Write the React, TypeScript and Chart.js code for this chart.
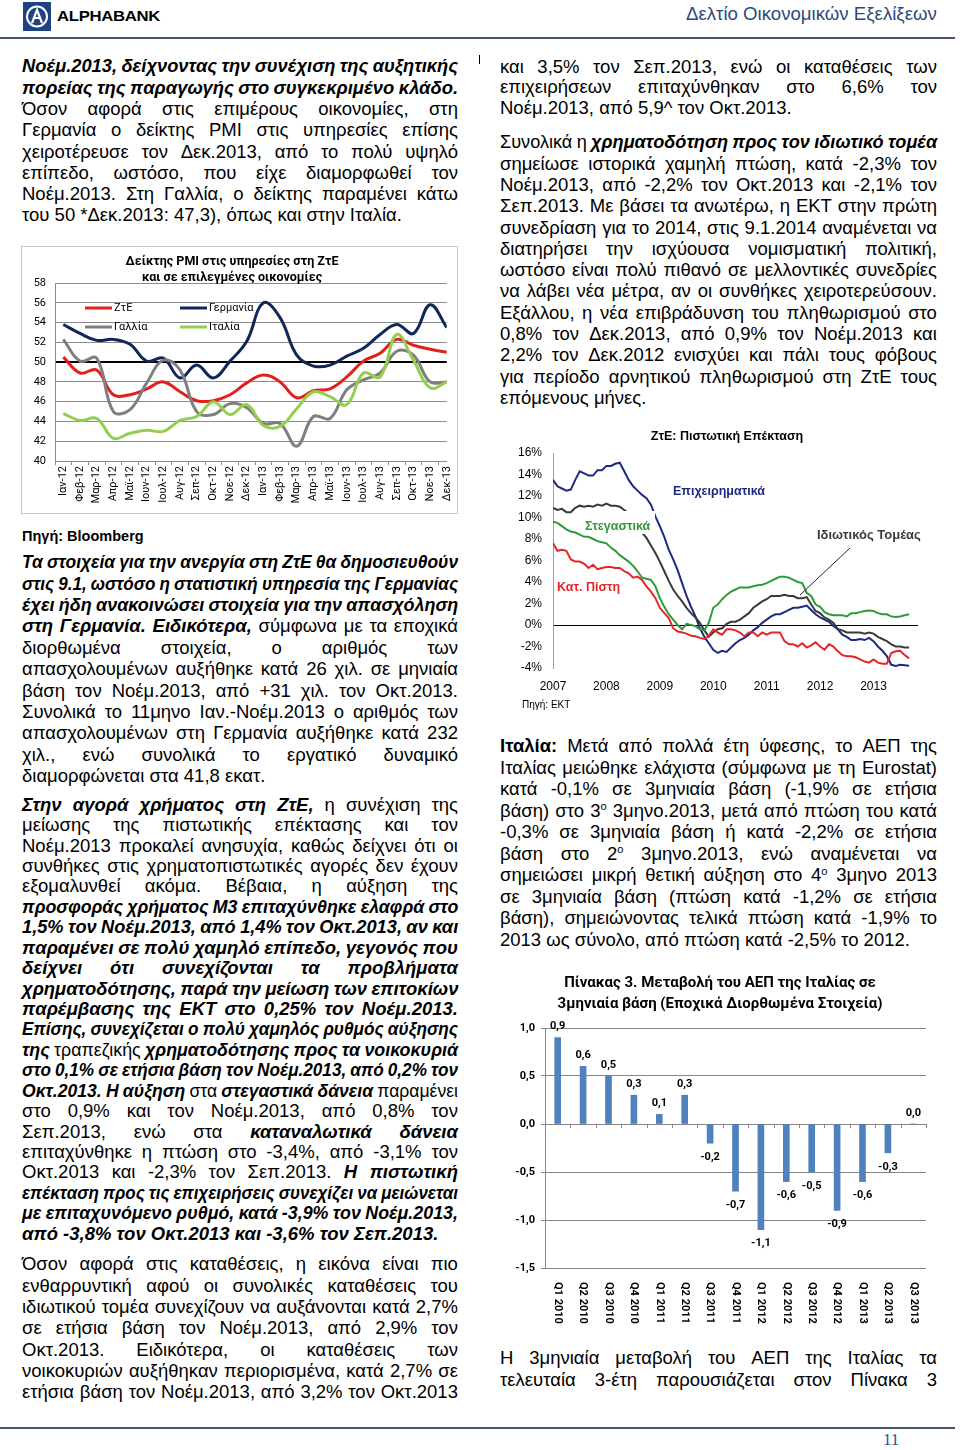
import React, { useEffect, useLayoutEffect, useRef } from "react";
import { Chart, registerables } from "chart.js";
Chart.register(...registerables);

const SANS = "'Liberation Sans', Arial, sans-serif";
const CAL = "Roboto, 'Noto Sans', sans-serif";

// ---------- Chart 1: PMI services ----------
const pmiTitle = ["Δείκτης PMI στις υπηρεσίες στη ΖτΕ", "και σε επιλεγμένες οικονομίες"];
const pmiMonths = ["Ιαν-12", "Φεβ-12", "Μαρ-12", "Απρ-12", "Μαϊ-12", "Ιουν-12", "Ιουλ-12", "Αυγ-12", "Σεπ-12", "Οκτ-12", "Νοε-12", "Δεκ-12", "Ιαν-13", "Φεβ-13", "Μαρ-13", "Απρ-13", "Μαϊ-13", "Ιουν-13", "Ιουλ-13", "Αυγ-13", "Σεπ-13", "Οκτ-13", "Νοε-13", "Δεκ-13"];
const pmiEZ = [50.5, 48.9, 49.2, 46.7, 46.7, 47.3, 48.0, 47.0, 46.1, 46.1, 46.7, 47.9, 48.7, 48.0, 46.4, 47.1, 47.3, 48.5, 50.1, 50.9, 52.3, 51.7, 51.3, 51.0];
const pmiDE = [53.8, 52.9, 52.2, 52.3, 51.8, 50.1, 50.4, 48.4, 49.7, 48.4, 50.1, 52.1, 56.0, 54.5, 50.7, 49.6, 49.7, 50.6, 51.4, 52.8, 53.8, 52.9, 55.8, 53.5];
const pmiFR = [52.3, 50.1, 50.4, 45.0, 45.2, 47.9, 50.2, 49.2, 45.0, 44.7, 45.8, 45.4, 43.8, 43.8, 41.5, 44.5, 44.3, 47.2, 48.2, 48.9, 51.1, 50.7, 48.0, 48.0];
const pmiIT = [44.8, 44.1, 44.3, 42.3, 42.8, 43.1, 43.0, 44.1, 44.5, 46.0, 44.7, 45.7, 43.6, 43.5, 45.3, 47.0, 46.5, 45.7, 48.9, 48.5, 52.8, 50.2, 47.4, 48.0];
const pmiNames = ["ΖτΕ", "Γερμανία", "Γαλλία", "Ιταλία"];

// ---------- Chart 2: credit expansion (monthly, Jan 2007 onwards) ----------
const creditTitle = "ΖτΕ: Πιστωτική Επέκταση";
const creditYears = ["2007", "2008", "2009", "2010", "2011", "2012", "2013"];
const creditBusiness = [13.5, 12.9, 12.7, 12.5, 12.6, 13.5, 14.3, 14.1, 13.9, 13.9, 14.4, 14.4, 14.8, 14.8, 15.0, 15.1, 14.3, 13.5, 12.9, 12.5, 12.1, 11.8, 11.2, 10.1, 9.2, 8.2, 7.0, 6.1, 5.1, 3.9, 2.7, 1.7, 0.8, -0.3, -1.1, -1.7, -2.3, -2.6, -2.4, -2.5, -2.1, -1.7, -1.4, -1.2, -0.9, -0.5, -0.2, 0.2, 0.5, 0.8, 1.0, 1.0, 1.2, 1.4, 1.6, 1.6, 1.7, 1.8, 1.4, 1.0, 0.7, 0.5, 0.3, -0.1, -0.4, -0.9, -1.1, -1.4, -1.4, -1.3, -1.4, -1.2, -1.5, -2.0, -2.4, -2.9, -3.7, -3.8, -3.7, -3.75, -3.8];
const creditPrivate = [10.9, 10.7, 10.8, 10.5, 10.5, 10.9, 11.1, 11.0, 11.1, 11.0, 11.2, 11.1, 11.3, 11.1, 11.1, 11.0, 10.7, 10.4, 9.8, 9.0, 8.6, 8.1, 7.4, 6.7, 5.9, 5.0, 4.1, 3.3, 2.7, 2.2, 1.6, 1.1, 0.7, 0.2, -0.5, -1.1, -0.7, -0.4, -0.3, 0.1, 0.3, 0.3, 0.5, 0.8, 1.1, 1.6, 1.9, 2.2, 2.4, 2.7, 2.7, 2.7, 2.8, 2.7, 2.7, 2.5, 2.5, 2.6, 1.9, 1.3, 1.1, 0.7, 0.5, 0.2, -0.4, -0.5, -0.7, -0.7, -0.7, -0.7, -0.8, -0.7, -0.8, -1.1, -1.3, -1.5, -1.8, -2.0, -2.0, -2.1, -2.1];
const creditHousing = [9.6, 9.5, 9.2, 8.9, 8.7, 8.6, 8.4, 8.2, 8.2, 8.0, 7.8, 7.7, 7.6, 7.2, 6.9, 6.5, 6.2, 5.9, 5.5, 5.0, 4.4, 4.3, 4.2, 3.6, 2.5, 1.7, 1.0, 0.5, 0.0, -0.4, 0.1, 0.0, -0.1, -0.4, -0.5, 0.2, 1.6, 1.9, 2.4, 2.8, 3.1, 3.3, 3.5, 3.5, 3.5, 3.6, 3.7, 3.75, 3.9, 4.1, 4.3, 4.5, 4.5, 4.4, 4.2, 4.0, 3.9, 3.0, 2.7, 1.9, 1.7, 1.2, 1.0, 0.9, 0.9, 0.9, 0.8, 1.1, 1.1, 1.2, 1.3, 1.35, 1.3, 1.1, 1.0, 1.0, 0.8, 0.75, 0.8, 0.9, 1.0];
const creditConsumer = [7.6, 6.9, 7.0, 6.9, 6.1, 5.9, 5.9, 5.7, 5.3, 5.6, 5.2, 5.3, 5.4, 5.4, 5.3, 5.3, 5.0, 4.8, 4.4, 4.5, 4.2, 3.6, 3.1, 2.5, 1.6, 1.1, 0.65, -0.3, -0.6, -0.7, -0.8, -1.0, -1.05, -1.2, -1.3, -1.0, -0.4, -0.7, -0.9, -0.4, -0.4, -0.5, -0.7, -1.05, -0.7, -0.7, -1.05, -0.7, -0.9, -0.7, -0.7, -0.7, -1.5, -1.8, -1.8, -2.0, -1.7, -2.1, -1.9, -1.6, -2.0, -2.3, -1.8, -2.0, -2.45, -2.8, -2.9, -2.9, -3.0, -3.2, -3.4, -3.5, -3.2, -3.5, -3.6, -3.6, -2.6, -2.45, -2.4, -2.8, -3.1];
const creditNames = ["Επιχειρηματικά", "Ιδιωτικός Τομέας", "Στεγαστικά", "Κατ. Πίστη"];

// ---------- Chart 3: Italy GDP q/q ----------
const gdpTitle = ["Πίνακας 3. Μεταβολή του ΑΕΠ της Ιταλίας σε", "3μηνιαία βάση (Εποχικά Διορθωμένα Στοιχεία)"];
const gdpQuarters = ["Q1 2010", "Q2 2010", "Q3 2010", "Q4 2010", "Q1 2011", "Q2 2011", "Q3 2011", "Q4 2011", "Q1 2012", "Q2 2012", "Q3 2012", "Q4 2012", "Q1 2013", "Q2 2013", "Q3 2013"];
const gdpChange = [0.9, 0.6, 0.5, 0.3, 0.1, 0.3, -0.2, -0.7, -1.1, -0.6, -0.5, -0.9, -0.6, -0.3, 0.0];

// ---------- Text ----------
const leftP1 = [
  "<bi>Νοέμ.2013, δείχνοντας την συνέχιση της αυξητικής</bi>",
  "<bi>πορείας της παραγωγής στο συγκεκριμένο κλάδο.</bi>",
  "Όσον αφορά στις επιμέρους οικονομίες, στη",
  "Γερμανία ο δείκτης PMI στις υπηρεσίες επίσης",
  "χειροτέρευσε τον Δεκ.2013, από το πολύ υψηλό",
  "επίπεδο, ωστόσο, που είχε διαμορφωθεί τον",
  "Νοέμ.2013. Στη Γαλλία, ο δείκτης παραμένει κάτω",
  "του 50 *Δεκ.2013: 47,3), όπως και στην Ιταλία.",
];
const leftP2 = [
  "<bi>Τα στοιχεία για την ανεργία στη ΖτΕ θα δημοσιευθούν</bi>",
  "<bi>στις 9.1, ωστόσο η στατιστική υπηρεσία της Γερμανίας</bi>",
  "<bi>έχει ήδη ανακοινώσει στοιχεία για την απασχόληση</bi>",
  "<bi>στη Γερμανία. Ειδικότερα,</bi> σύμφωνα με τα εποχικά",
  "διορθωμένα στοιχεία, ο αριθμός των",
  "απασχολουμένων αυξήθηκε κατά 26 χιλ. σε μηνιαία",
  "βάση τον Νοέμ.2013, από +31 χιλ. τον Οκτ.2013.",
  "Συνολικά το 11μηνο Ιαν.-Νοέμ.2013 ο αριθμός των",
  "απασχολουμένων στη Γερμανία αυξήθηκε κατά 232",
  "χιλ., ενώ συνολικά το εργατικό δυναμικό",
  "διαμορφώνεται στα 41,8 εκατ.",
];
const leftP3 = [
  "<bi>Στην αγορά χρήματος στη ΖτΕ,</bi> η συνέχιση της",
  "μείωσης της πιστωτικής επέκτασης και τον",
  "Νοέμ.2013 προκαλεί ανησυχία, καθώς δείχνει ότι οι",
  "συνθήκες στις χρηματοπιστωτικές αγορές δεν έχουν",
  "εξομαλυνθεί ακόμα. Βέβαια, η αύξηση της",
  "<bi>προσφοράς χρήματος Μ3 επιταχύνθηκε ελαφρά στο</bi>",
  "<bi>1,5% τον Νοέμ.2013, από 1,4% τον Οκτ.2013, αν και</bi>",
  "<bi>παραμένει σε πολύ χαμηλό επίπεδο, γεγονός που</bi>",
  "<bi>δείχνει ότι συνεχίζονται τα προβλήματα</bi>",
  "<bi>χρηματοδότησης, παρά την μείωση των επιτοκίων</bi>",
  "<bi>παρέμβασης της ΕΚΤ στο 0,25% τον Νοέμ.2013.</bi>",
  "<bi>Επίσης, συνεχίζεται ο πολύ χαμηλός ρυθμός αύξησης</bi>",
  "<bi>της</bi> τραπεζικής <bi>χρηματοδότησης προς τα νοικοκυριά</bi>",
  "<bi>στο 0,1% σε ετήσια βάση τον Νοέμ.2013, από 0,2% τον</bi>",
  "<bi>Οκτ.2013. Η αύξηση</bi> στα <bi>στεγαστικά δάνεια</bi> παραμένει",
  "στο 0,9% και τον Νοέμ.2013, από 0,8% τον",
  "Σεπ.2013, ενώ στα <bi>καταναλωτικά δάνεια</bi>",
  "επιταχύνθηκε η πτώση στο -3,4%, από -3,1% τον",
  "Οκτ.2013 και -2,3% τον Σεπ.2013. <bi>Η πιστωτική</bi>",
  "<bi>επέκταση προς τις επιχειρήσεις συνεχίζει να μειώνεται</bi>",
  "<bi>με επιταχυνόμενο ρυθμό, κατά -3,9% τον Νοέμ.2013,</bi>",
  "<bi>από -3,8% τον Οκτ.2013 και -3,6% τον Σεπ.2013.</bi>",
];
const leftP4 = [
  "Όσον αφορά στις καταθέσεις, η εικόνα είναι πιο",
  "ενθαρρυντική αφού οι συνολικές καταθέσεις του",
  "ιδιωτικού τομέα συνεχίζουν να αυξάνονται κατά 2,7%",
  "σε ετήσια βάση τον Νοέμ.2013, από 2,9% τον",
  "Οκτ.2013. Ειδικότερα, οι καταθέσεις των",
  "νοικοκυριών αυξήθηκαν περιορισμένα, κατά 2,7% σε",
  "ετήσια βάση τον Νοέμ.2013, από 3,2% τον Οκτ.2013",
];
const rightP1 = [
  "και 3,5% τον Σεπ.2013, ενώ οι καταθέσεις των",
  "επιχειρήσεων επιταχύνθηκαν στο 6,6% τον",
  "Νοέμ.2013, από 5,9^ τον Οκτ.2013.",
];
const rightP2 = [
  "Συνολικά η <bi>χρηματοδότηση προς τον ιδιωτικό τομέα</bi>",
  "σημείωσε ιστορικά χαμηλή πτώση, κατά -2,3% τον",
  "Νοέμ.2013, από -2,2% τον Οκτ.2013 και -2,1% τον",
  "Σεπ.2013. Με βάσει τα ανωτέρω, η ΕΚΤ στην πρώτη",
  "συνεδρίαση για το 2014, στις 9.1.2014 αναμένεται να",
  "διατηρήσει την ισχύουσα νομισματική πολιτική,",
  "ωστόσο είναι πολύ πιθανό σε μελλοντικές συνεδρίες",
  "να λάβει νέα μέτρα, αν οι συνθήκες χειροτερεύσουν.",
  "Εξάλλου, η νέα επιβράδυνση του πληθωρισμού στο",
  "0,8% τον Δεκ.2013, από 0,9% τον Νοέμ.2013 και",
  "2,2% τον Δεκ.2012 ενισχύει και πάλι τους φόβους",
  "για περίοδο αρνητικού πληθωρισμού στη ΖτΕ τους",
  "επόμενους μήνες.",
];
const rightP3 = [
  "<b>Ιταλία:</b> Μετά από πολλά έτη ύφεσης, το ΑΕΠ της",
  "Ιταλίας μειώθηκε ελάχιστα (σύμφωνα με τη Eurostat)",
  "κατά -0,1% σε 3μηνιαία βάση (-1,9% σε ετήσια",
  "βάση) στο 3<sup>ο</sup> 3μηνο.2013, μετά από πτώση του κατά",
  "-0,3% σε 3μηνιαία βάση ή κατά -2,2% σε ετήσια",
  "βάση στο 2<sup>ο</sup> 3μηνο.2013, ενώ αναμένεται να",
  "σημειώσει μικρή θετική αύξηση στο 4<sup>ο</sup> 3μηνο 2013",
  "σε 3μηνιαία βάση (πτώση κατά -1,2% σε ετήσια",
  "βάση), σημειώνοντας τελικά πτώση κατά -1,9% το",
  "2013 ως σύνολο, από πτώση κατά -2,5% το 2012.",
];
const rightP4 = [
  "Η 3μηνιαία μεταβολή του ΑΕΠ της Ιταλίας τα",
  "τελευταία 3-έτη παρουσιάζεται στον Πίνακα 3",
];

// ---------- text helpers ----------
type Seg = { t: string; bi?: boolean; b?: boolean; sup?: boolean };
function parse(line: string): Seg[] {
  const out: Seg[] = [];
  let bi = false, b = false, sup = false;
  for (const p of line.split(/(<\/?(?:bi|b|sup)>)/)) {
    if (p === "<bi>") bi = true;
    else if (p === "</bi>") bi = false;
    else if (p === "<b>") b = true;
    else if (p === "</b>") b = false;
    else if (p === "<sup>") sup = true;
    else if (p === "</sup>") sup = false;
    else if (p) out.push({ t: p, bi, b, sup });
  }
  return out;
}
function toWords(segs: Seg[]): Seg[][] {
  const ws: Seg[][] = [];
  let cur: Seg[] = [];
  segs.forEach((s) => {
    s.t.split(" ").forEach((p, k) => {
      if (k > 0 && cur.length) { ws.push(cur); cur = []; }
      if (p) cur.push({ ...s, t: p });
    });
  });
  if (cur.length) ws.push(cur);
  return ws;
}
function segStyle(s: Seg): React.CSSProperties {
  const st: React.CSSProperties = {
    fontWeight: s.bi || s.b ? "bold" : "normal",
    fontStyle: s.bi ? "italic" : "normal",
  };
  if (s.sup) Object.assign(st, { fontSize: "0.6em", position: "relative", top: "-0.6em" });
  return st;
}
function TextLine({ segs, w, lh, justify }: { segs: Seg[]; w: number; lh: number; justify: boolean }) {
  const ref = useRef<HTMLDivElement>(null);
  useLayoutEffect(() => {
    const el = ref.current;
    if (!el) return;
    const sw = el.scrollWidth;
    if (sw > w + 0.5) {
      el.style.width = sw + "px";
      el.style.transform = `scaleX(${w / sw})`;
    }
  }, []);
  const base: React.CSSProperties = { width: w, height: lh, lineHeight: lh + "px", whiteSpace: "pre", transformOrigin: "0 0" };
  if (justify) {
    const ws = toWords(segs);
    return (
      <div ref={ref} style={{ ...base, display: "flex", justifyContent: ws.length > 1 ? "space-between" : "flex-start", columnGap: "0.24em" }}>
        {ws.map((wd, i) => (
          <span key={i}>{wd.map((s, j) => <span key={j} style={segStyle(s)}>{s.t}</span>)}</span>
        ))}
      </div>
    );
  }
  return (
    <div ref={ref} style={base}>
      {segs.map((s, j) => <span key={j} style={segStyle(s)}>{s.t}</span>)}
    </div>
  );
}
function Para({ x, y, w, lh, lines, lastJustify = false }: { x: number; y: number; w: number; lh: number; lines: string[]; lastJustify?: boolean }) {
  return (
    <div style={{ position: "absolute", left: x, top: y - lh / 2, width: w }}>
      {lines.map((l, i) => (
        <TextLine key={i} segs={parse(l)} w={w} lh={lh} justify={i < lines.length - 1 || lastJustify} />
      ))}
    </div>
  );
}
function FitText({ x, y, w, style, children }: { x: number; y: number; w: number; style?: React.CSSProperties; children: React.ReactNode }) {
  const ref = useRef<HTMLSpanElement>(null);
  useLayoutEffect(() => {
    const el = ref.current;
    if (!el) return;
    const nw = el.offsetWidth;
    if (nw > 0) el.style.transform = `translateY(-50%) scaleX(${w / nw})`;
  }, []);
  return (
    <span ref={ref} style={{ position: "absolute", left: x, top: y, whiteSpace: "nowrap", transformOrigin: "0 50%", transform: "translateY(-50%)", ...style }}>
      {children}
    </span>
  );
}

const fmt1 = (v: number) => Number(v).toFixed(1).replace(".", ",");

// ---------- Chart 1 ----------
function PmiChart() {
  const ref = useRef<HTMLCanvasElement>(null);
  useEffect(() => {
    const series = [
      { label: pmiNames[0], data: pmiEZ, color: "#e3201b", order: 3 },
      { label: pmiNames[1], data: pmiDE, color: "#11275a", order: 2 },
      { label: pmiNames[2], data: pmiFR, color: "#7f7f7f", order: 1 },
      { label: pmiNames[3], data: pmiIT, color: "#93cf4f", order: 0 },
    ];
    const decor = {
      id: "pmiDecor",
      afterDraw(chart: any) {
        const ctx = chart.ctx;
        ctx.save();
        ctx.strokeStyle = "#c8c8c8";
        ctx.lineWidth = 1;
        ctx.strokeRect(0.5, 0.5, 436, 267);
        ctx.fillStyle = "#000";
        ctx.font = `bold 12.5px ${CAL}`;
        ctx.textAlign = "center";
        ctx.textBaseline = "middle";
        pmiTitle.forEach((t, i) => ctx.fillText(t, 211, 16 + i * 16));
        const pos = [[64, 62], [159, 62], [64, 81], [159, 81]];
        series.forEach((s, i) => {
          const [lx, ly] = pos[i];
          ctx.strokeStyle = s.color;
          ctx.lineWidth = 3;
          ctx.beginPath();
          ctx.moveTo(lx, ly);
          ctx.lineTo(lx + 27, ly);
          ctx.stroke();
          ctx.font = `11px ${CAL}`;
          ctx.textAlign = "left";
          ctx.fillStyle = "#000";
          ctx.fillText(s.label, lx + 29, ly);
        });
        ctx.restore();
      },
    };
    const chart = new Chart(ref.current!, {
      type: "line",
      data: {
        datasets: series.map((s) => ({
          label: s.label,
          data: s.data.map((v, i) => ({ x: i, y: v })),
          borderColor: s.color,
          backgroundColor: s.color,
          borderWidth: 3,
          pointRadius: 0,
          tension: 0.4,
          fill: false,
          order: s.order,
        })),
      },
      options: {
        animation: false,
        responsive: false,
        maintainAspectRatio: false,
        layout: { padding: { top: 37, right: 11, left: 0, bottom: 0 } },
        plugins: { legend: { display: false }, tooltip: { enabled: false }, title: { display: false } },
        scales: {
          x: {
            type: "linear",
            min: -0.5,
            max: pmiMonths.length - 1,
            afterBuildTicks: (s: any) => { s.ticks = pmiMonths.map((_, i) => ({ value: i })); },
            afterFit: (s: any) => { s.height = 53; },
            ticks: { autoSkip: false, minRotation: 90, maxRotation: 90, padding: 1, color: "#000", font: { family: CAL, size: 11 }, callback: (v: any) => pmiMonths[v] ?? "" },
            grid: { drawOnChartArea: false, drawTicks: true, tickLength: 4, offset: true, color: "#8c8c8c" },
            border: { color: "#8c8c8c" },
          },
          y: {
            min: 40,
            max: 58,
            afterFit: (s: any) => { s.width = 34; },
            ticks: { stepSize: 2, padding: 9, color: "#000", font: { family: CAL, size: 11 } },
            grid: {
              drawTicks: false,
              color: (c: any) => (c.tick && c.tick.value === 50 ? "#000" : "#8c8c8c"),
              lineWidth: (c: any) => (c.tick && c.tick.value === 50 ? 2 : 1),
            },
            border: { color: "#8c8c8c" },
          },
        },
      } as any,
      plugins: [decor],
    });
    return () => chart.destroy();
  }, []);
  return <canvas ref={ref} width={440} height={268} style={{ position: "absolute", left: 21, top: 246 }} />;
}

// ---------- Chart 2 ----------
function CreditChart() {
  const ref = useRef<HTMLCanvasElement>(null);
  useEffect(() => {
    const series = [
      { label: creditNames[3], data: creditConsumer, color: "#e4262a" },
      { label: creditNames[2], data: creditHousing, color: "#2f9a3c" },
      { label: creditNames[1], data: creditPrivate, color: "#3a3a3a" },
      { label: creditNames[0], data: creditBusiness, color: "#1c2a80" },
    ];
    const decor = {
      id: "creditDecor",
      afterDatasetsDraw(chart: any) {
        const ctx = chart.ctx;
        ctx.save();
        ctx.textBaseline = "middle";
        ctx.fillStyle = "#000";
        ctx.font = `bold 12.5px ${SANS}`;
        ctx.textAlign = "center";
        ctx.fillText(creditTitle, 227, 17);
        ctx.textAlign = "left";
        ctx.fillStyle = "#fff";
        ctx.fillRect(83, 91, 72, 23);
        ctx.font = `bold 12.5px ${SANS}`;
        ctx.fillStyle = "#1c2a80";
        ctx.fillText(creditNames[0], 173, 72);
        ctx.fillStyle = "#2f9a3c";
        ctx.fillText(creditNames[2], 85, 107);
        ctx.fillStyle = "#e4262a";
        ctx.fillText(creditNames[3], 57, 168);
        ctx.fillStyle = "#3a3a3a";
        ctx.font = `bold 13px ${SANS}`;
        ctx.fillText(creditNames[1], 317, 115);
        ctx.strokeStyle = "#222";
        ctx.lineWidth = 1;
        ctx.beginPath();
        ctx.moveTo(350, 128);
        ctx.lineTo(300, 175);
        ctx.stroke();
        ctx.fillStyle = "#000";
        ctx.font = `10px ${SANS}`;
        ctx.fillText("Πηγή: ΕΚΤ", 22, 285);
        ctx.restore();
      },
    };
    const chart = new Chart(ref.current!, {
      type: "line",
      data: {
        datasets: series.map((s) => ({
          label: s.label,
          data: s.data.map((v, i) => ({ x: i, y: v })),
          borderColor: s.color,
          backgroundColor: s.color,
          borderWidth: 2,
          pointRadius: 0,
          tension: 0,
          fill: false,
        })),
      },
      options: {
        animation: false,
        responsive: false,
        maintainAspectRatio: false,
        layout: { padding: { top: 33, right: 22, left: 0, bottom: 30 } },
        plugins: { legend: { display: false }, tooltip: { enabled: false } },
        scales: {
          x: {
            type: "linear",
            min: 0,
            max: 82,
            afterBuildTicks: (s: any) => { s.ticks = creditYears.map((_, i) => ({ value: i * 12 })); },
            afterFit: (s: any) => { s.height = 22; },
            ticks: { autoSkip: false, maxRotation: 0, padding: 11, color: "#000", font: { family: SANS, size: 12 }, callback: (v: any) => creditYears[v / 12] ?? "" },
            grid: { display: false, drawTicks: false },
            border: { display: false },
          },
          y: {
            min: -4,
            max: 16,
            afterFit: (s: any) => { s.width = 53; },
            ticks: { stepSize: 2, padding: 11, color: "#000", font: { family: SANS, size: 12 }, callback: (v: any) => v + "%" },
            grid: { drawTicks: false, color: (c: any) => (c.tick && c.tick.value === 0 ? "#000" : "rgba(0,0,0,0)") },
            border: { color: "#a0a0a0" },
          },
        },
      } as any,
      plugins: [decor],
    });
    return () => chart.destroy();
  }, []);
  return <canvas ref={ref} width={440} height={300} style={{ position: "absolute", left: 500, top: 420 }} />;
}

// ---------- Chart 3 ----------
function GdpChart() {
  const ref = useRef<HTMLCanvasElement>(null);
  useEffect(() => {
    const decor = {
      id: "gdpDecor",
      afterDatasetsDraw(chart: any) {
        const ctx = chart.ctx;
        const area = chart.chartArea;
        const xs = chart.scales.x;
        const ys = chart.scales.y;
        ctx.save();
        ctx.fillStyle = "#000";
        ctx.textAlign = "center";
        ctx.textBaseline = "middle";
        ctx.font = `bold 15px ${CAL}`;
        gdpTitle.forEach((t, i) => ctx.fillText(t, 220, 18 + i * 21));
        const y0 = ys.getPixelForValue(0);
        ctx.strokeStyle = "#868686";
        ctx.lineWidth = 1;
        const step = (area.right - area.left) / gdpQuarters.length;
        for (let i = 0; i <= gdpQuarters.length; i++) {
          const x = Math.round(area.left + i * step) + 0.5;
          ctx.beginPath();
          ctx.moveTo(x, y0);
          ctx.lineTo(x, y0 + 4);
          ctx.stroke();
        }
        ctx.font = `bold 11px ${CAL}`;
        const meta = chart.getDatasetMeta(0);
        meta.data.forEach((bar: any, i: number) => {
          const v = gdpChange[i];
          ctx.fillText(fmt1(v), bar.x, v >= 0 ? bar.y - 11 : bar.y + 14);
        });
        ctx.textAlign = "left";
        gdpQuarters.forEach((q, i) => {
          const x = xs.getPixelForValue(i);
          ctx.save();
          ctx.translate(x, area.bottom + 14);
          ctx.rotate(Math.PI / 2);
          ctx.fillText(q, 0, 0);
          ctx.restore();
        });
        ctx.restore();
      },
    };
    const chart = new Chart(ref.current!, {
      type: "bar",
      data: { labels: gdpQuarters, datasets: [{ data: gdpChange, backgroundColor: "#4f81bd", barThickness: 6 }] },
      options: {
        animation: false,
        responsive: false,
        maintainAspectRatio: false,
        layout: { padding: { top: 63, right: 14, left: 0, bottom: 62 } },
        plugins: { legend: { display: false }, tooltip: { enabled: false } },
        scales: {
          x: {
            ticks: { display: false },
            grid: { display: false, drawTicks: false },
            border: { display: false },
            afterFit: (s: any) => { s.height = 0; },
          },
          y: {
            min: -1.5,
            max: 1.0,
            afterFit: (s: any) => { s.width = 45; },
            ticks: { stepSize: 0.5, padding: 6, color: "#000", font: { family: CAL, size: 11, weight: "bold" }, callback: (v: any) => fmt1(v) },
            grid: { color: "#868686", tickLength: 4 },
            border: { color: "#868686" },
          },
        },
      } as any,
      plugins: [decor],
    });
    return () => chart.destroy();
  }, []);
  return <canvas ref={ref} width={440} height={365} style={{ position: "absolute", left: 500, top: 965 }} />;
}

function Logo() {
  return (
    <svg width={28} height={29} style={{ position: "absolute", left: 23, top: 2 }} viewBox="0 0 28 29">
      <rect x={0} y={0} width={28} height={29} fill="#1f4282" />
      <circle cx={14} cy={14.5} r={10} fill="none" stroke="#fff" strokeWidth={2} />
      <path d="M9 21 L14 8 L19 21 M11 16 L17 16" fill="none" stroke="#fff" strokeWidth={2.2} />
    </svg>
  );
}

export default function App() {
  const L = 22, LW = 436, R = 500, RW = 437;
  return (
    <div style={{ position: "absolute", left: 0, top: 0, width: 960, height: 1450, overflow: "hidden", background: "#fff", fontFamily: SANS, fontSize: 18.5, color: "#000" }}>
      <Logo />
      <FitText x={57} y={16} w={103} style={{ fontWeight: "bold", fontSize: 14, letterSpacing: -0.3 }}>ALPHABANK</FitText>
      <FitText x={686} y={14} w={251} style={{ fontSize: 19, color: "#2d4a7a" }}>Δελτίο Οικονομικών Εξελίξεων</FitText>
      <div style={{ position: "absolute", left: 0, top: 37, width: 955, height: 2, background: "#44546a" }} />
      <div style={{ position: "absolute", left: 479, top: 55, width: 1, height: 9, background: "#000" }} />

      <Para x={L} y={66} w={LW} lh={21.3} lines={leftP1} />
      <PmiChart />
      <div style={{ position: "absolute", left: L, top: 536, transform: "translateY(-50%)", fontWeight: "bold", fontSize: 14.5, whiteSpace: "nowrap" }}>Πηγή: Bloomberg</div>
      <Para x={L} y={562} w={LW} lh={21.4} lines={leftP2} />
      <Para x={L} y={805} w={LW} lh={20.43} lines={leftP3} />
      <Para x={L} y={1264} w={LW} lh={21.3} lines={leftP4} lastJustify />

      <Para x={R} y={67} w={RW} lh={20.7} lines={rightP1} />
      <Para x={R} y={142} w={RW} lh={21.3} lines={rightP2} />
      <CreditChart />
      <Para x={R} y={746} w={RW} lh={21.5} lines={rightP3} />
      <GdpChart />
      <Para x={R} y={1358} w={RW} lh={21.5} lines={rightP4} lastJustify />

      <div style={{ position: "absolute", left: 0, top: 1427, width: 955, height: 2, background: "#44546a" }} />
      <div style={{ position: "absolute", left: 883, top: 1440, transform: "translateY(-50%)", fontFamily: "'Liberation Serif', serif", fontSize: 17, color: "#2f4f8f" }}>11</div>
    </div>
  );
}
